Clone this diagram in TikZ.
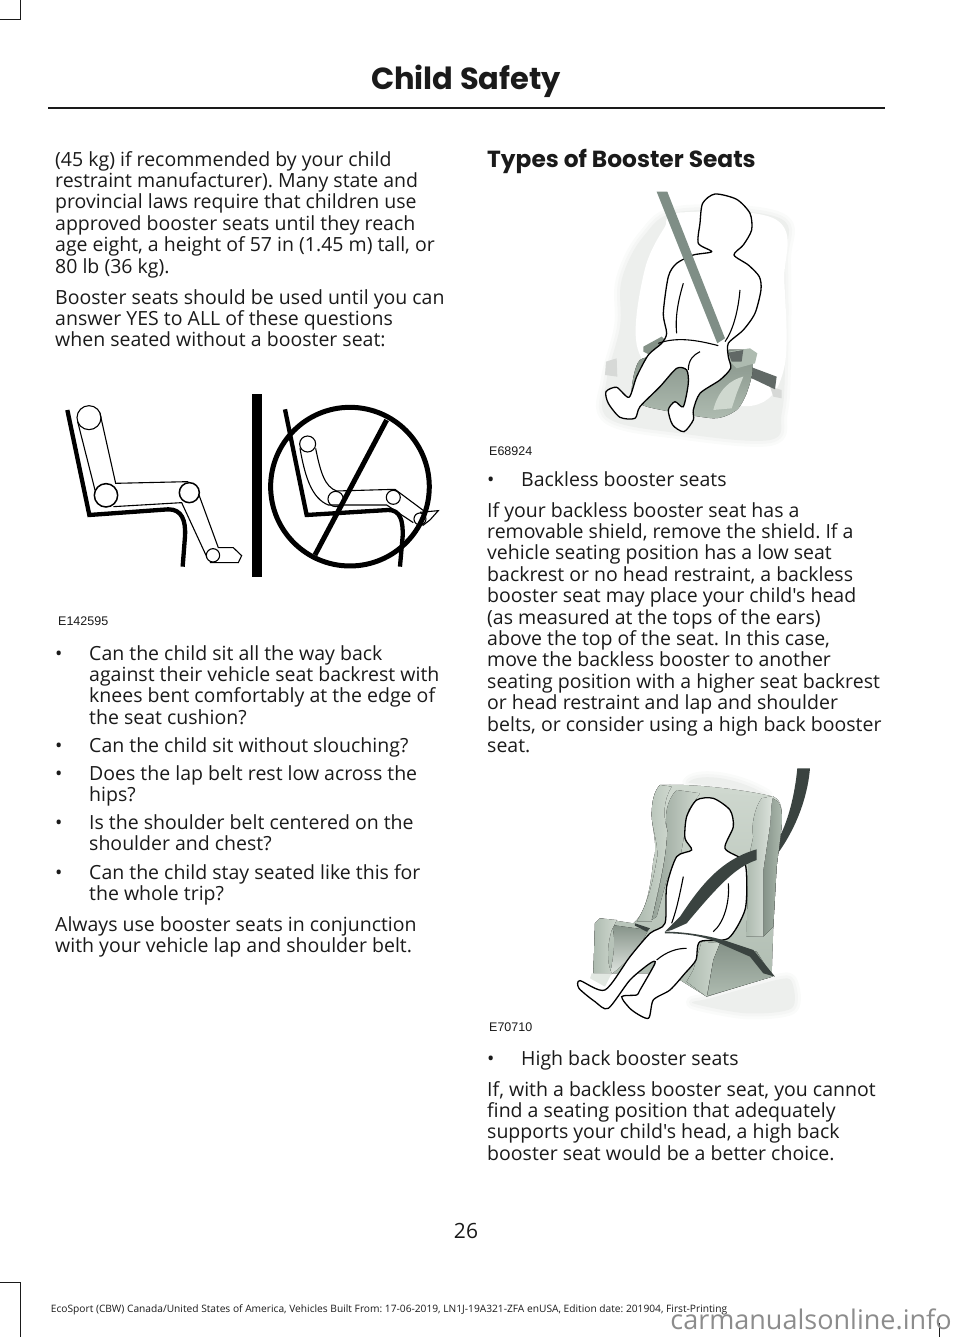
\documentclass[tikz,border=0pt]{standalone}
\usepackage{fontspec}
\setmainfont{Open Sans}[Ligatures=TeXOff]
\newfontfamily\headfont{Poppins}
\newfontfamily\capfont{Liberation Sans}
\usetikzlibrary{positioning}
\definecolor{ink}{HTML}{1A1A1A}
\definecolor{beltgray}{HTML}{7F8E86}
\definecolor{beltdark}{HTML}{3A4340}
\definecolor{seatgreen}{HTML}{AEBBB0}
\definecolor{seatdark}{HTML}{859288}
\definecolor{seatlight}{HTML}{CFD8CF}
\definecolor{pale}{HTML}{EDEFED}
\tikzset{
  bodytext/.style={inner sep=0pt, anchor=north west, align=left, text=ink,
    font=\frenchspacing\fontsize{19.5}{21.4}\selectfont,
    execute at begin node={\rule{0pt}{15pt}}},
  headtext/.style={inner sep=0pt, text=ink, font=\headfont\bfseries\fontsize{30.5}{34}\selectfont},
  captext/.style={inner sep=0pt, anchor=west, text=ink, font=\capfont\fontsize{12.5}{14}\selectfont},
  picline/.style={line width=1.1pt, draw=black},
  chairline/.style={line width=4.3pt, draw=black, line join=miter},
  markline/.style={line width=1pt, draw=ink},
  kid/.style={fill=white, draw=black, line width=1.3pt},
  softfill/.style={preaction={draw=#1!25!white, line width=12pt, line join=round},
    preaction={draw=#1!55!white, line width=6pt, line join=round}, fill=#1}
}
\begin{document}
\begin{tikzpicture}[x=1pt,y=-1pt]
\useasboundingbox (0,0) rectangle (960,1337);
% page furniture
\draw[markline] (0,20) -- (20,20) -- (20,0);
\draw[markline] (0,1282) -- (20,1282) -- (20,1337);
\draw[markline] (939,1323) -- (939,1337);
\draw[line width=1.4pt, draw=ink] (48,108) -- (885,108);
\node[headtext] (title) at (466,81) {Child Safety};
\node[inner sep=0pt, text=ink, font=\fontsize{21}{24}\selectfont] (pagenum) at (466,1231) {26};
\node[inner sep=0pt, text=ink, font=\frenchspacing\fontsize{10.2}{12}\selectfont] (footer) at (389,1310)
  {EcoSport (CBW) Canada/United States of America, Vehicles Built From: 17-06-2019, LN1J-19A321-ZFA enUSA, Edition date: 201904, First-Printing};
\node[inner sep=0pt, text=black!45, font=\fontsize{27}{30}\selectfont] (mark) at (811,1319) {carmanualsonline.info};

% left column
\node[bodytext] (intro) at (55,151) {(45 kg) if recommended by your child\\
restraint manufacturer). Many state and\\
provincial laws require that children use\\
approved booster seats until they reach\\
age eight, a height of 57 in (1.45 m) tall, or\\
80 lb (36 kg).};
\node[bodytext] (answer) at (55,289) {Booster seats should be used until you can\\
answer YES to ALL of these questions\\
when seated without a booster seat:};
\node[captext] (capA) at (58,621) {E142595};
\foreach \y in {645,737,765,814,864}
{
  \node[bodytext] at (55,\y) {•};
}
\node[bodytext] (quA) at (89,645) {Can the child sit all the way back\\
against their vehicle seat backrest with\\
knees bent comfortably at the edge of\\
the seat cushion?};
\node[bodytext] (quB) at (89,737) {Can the child sit without slouching?};
\node[bodytext] (quC) at (89,765) {Does the lap belt rest low across the\\
hips?};
\node[bodytext] (quD) at (89,814) {Is the shoulder belt centered on the\\
shoulder and chest?};
\node[bodytext] (quE) at (89,864) {Can the child stay seated like this for\\
the whole trip?};
\node[bodytext] (always) at (55,916) {Always use booster seats in conjunction\\
with your vehicle lap and shoulder belt.};

% right column
\node[headtext, anchor=west, font=\headfont\bfseries\fontsize{23.3}{27}\selectfont] (types) at (487,161) {Types of Booster Seats};
\node[captext] (capB) at (489,451) {E68924};
\node[captext] (capC) at (489,1027) {E70710};
\foreach \y in {471,1050}
{
  \node[bodytext] at (487,\y) {•};
}
\node[bodytext] (backless) at (521,471) {Backless booster seats};
\node[bodytext] (shield) at (487,502) {If your backless booster seat has a\\
removable shield, remove the shield. If a\\
vehicle seating position has a low seat\\
backrest or no head restraint, a backless\\
booster seat may place your child's head\\
(as measured at the tops of the ears)\\
above the top of the seat. In this case,\\
move the backless booster to another\\
seating position with a higher seat backrest\\
or head restraint and lap and shoulder\\
belts, or consider using a high back booster\\
seat.};
\node[bodytext] (highback) at (521,1050) {High back booster seats};
\node[bodytext] (better) at (487,1081) {If, with a backless booster seat, you cannot\\
find a seating position that adequately\\
supports your child's head, a high back\\
booster seat would be a better choice.};

% sitting pictograms
\begin{scope}[shift={(50,380)},x=0.3333pt,y=-0.3333pt]
\draw[chairline] (52,90) -- (118,405) -- (355,388) .. controls (395,388) and (408,420) .. (405,470) -- (398,560);
\draw[picline] (117,113) circle (36);
\draw[picline, line width=1.5pt] (168,346) circle (35);
\draw[picline, line width=1.5pt] (418,338) circle (30);
\draw[picline] (489,526) circle (20);
\draw[picline] (83,125) -- (135,330);
\draw[picline] (150,100) -- (197,310) -- (415,305);
\draw[picline] (190,380) -- (395,368) -- (470,530);
\draw[picline] (447,345) -- (505,503) -- (550,503) -- (575,527) -- (565,548) -- (480,548);
\fill[black] (607,42) rectangle (636,590);
\draw[line width=5pt, draw=black] (900,320) circle (238);
\draw[line width=5pt, draw=black] (1010,120) -- (795,525);
\draw[chairline] (705,88) -- (770,405) -- (1015,390) .. controls (1050,390) and (1060,420) .. (1058,470) -- (1050,560);
\draw[picline] (773,192) circle (24);
\draw[picline] (857,357) circle (23);
\draw[picline] (1030,352) circle (21);
\draw[picline] (1110,417) circle (18);
\draw[picline] (750,205) .. controls (765,290) and (785,355) .. (835,375) -- (1010,375) -- (1090,428);
\draw[picline] (797,205) .. controls (812,280) and (825,320) .. (860,333) -- (1035,328) -- (1125,395);
\draw[picline] (1110,397) -- (1165,392) -- (1140,420) -- (1118,437);
\end{scope}

% backless booster
\begin{scope}[shift={(480,180)},x=0.3333pt,y=-0.3333pt]
\path[softfill=pale] plot[smooth cycle, tension=0.6] coordinates {(425,300)(490,170)(600,95)(900,115)(915,250)(915,560)(905,700)(870,780)(600,760)(385,715)(380,600)(420,440)};
\path[softfill=white] plot[smooth cycle, tension=0.6] coordinates {(510,280)(570,150)(610,115)(880,135)(895,300)(895,560)(810,660)(600,600)(490,500)};
\fill[pale!80!gray] (378,545) -- (410,535) -- (412,590) -- (375,585) -- cycle;
\fill[pale!80!gray] (870,620) -- (905,630) -- (905,655) -- (880,650) -- cycle;
\fill[beltdark!80!white] (810,560) -- (890,590) -- (885,628) -- (805,590) -- cycle;
\fill[top color=seatdark, bottom color=seatgreen] plot[smooth cycle, tension=0.4] coordinates {(480,540)(455,640)(500,680)(700,715)(770,690)(800,640)(818,570)(800,510)(600,520)};
\fill[seatdark] (490,500) -- (545,470) -- (555,480) -- (510,525) -- (490,515) -- cycle;
\fill[seatgreen] (745,515) -- (810,505) -- (832,520) -- (825,550) -- (770,565) -- (745,540) -- cycle;
\fill[beltdark!80!white] (745,518) -- (790,510) -- (785,545) -- (755,545) -- cycle;
\fill[seatlight] (700,690) .. controls (715,630) and (750,600) .. (790,590) -- (770,640) -- (755,685) -- cycle;
\draw[kid] plot[smooth cycle, tension=0.45] coordinates {(655,190)(660,130)(668,70)(705,42)(770,58)(810,100)(815,150)(790,195)(762,225)(805,255)(838,290)(843,330)(825,400)(790,450)(745,490)(745,530)(752,565)(720,600)(660,640)(640,690)(640,720)(612,755)(578,735)(565,690)(585,665)(610,680)(625,610)(620,570)(590,565)(540,620)(480,680)(465,715)(420,712)(385,670)(378,635)(410,622)(447,652)(470,590)(505,525)(545,490)(560,460)(550,400)(565,290)(590,250)(640,225)(695,215)};
\fill[beltgray] (530,35) -- (562,35) -- (735,475) -- (712,490) -- cycle;
\draw[picline] (610,310) .. controls (595,360) and (585,410) .. (590,460);
\draw[picline] (780,330) .. controls (775,390) and (760,450) .. (735,485);
\draw[picline] (535,490) .. controls (590,470) and (650,480) .. (715,497);
\draw[picline] (660,515) .. controls (640,525) and (625,540) .. (625,570);
\end{scope}

% high back booster
\begin{scope}[shift={(480,760)},x=0.3333pt,y=-0.3333pt]
\path[softfill=pale] (625,68) .. controls (645,40) and (760,45) .. (860,105) -- cycle;
\path[softfill=pale] plot[smooth cycle, tension=0.5] coordinates {(890,660)(935,665)(935,745)(800,760)(640,730)(690,715)};
\fill[beltdark] (952,25) -- (990,25) .. controls (985,90) and (960,190) .. (890,285) -- (888,250) .. controls (925,190) and (945,100) .. cycle;
% back and wings
\fill[top color=seatlight, bottom color=seatgreen] (540,75) .. controls (640,70) and (800,90) .. (880,110) .. controls (905,120) and (908,150) .. (905,200) -- (890,320) -- (880,500) -- (875,650) -- (680,710) -- (600,660) -- (520,640) -- (340,640) -- (345,490) -- (360,475) -- (460,490) .. controls (495,460) and (510,400) .. (520,300) .. controls (535,260) and (515,200) .. (515,165) .. controls (515,120) and (525,90) .. cycle;
\fill[seatlight] (560,78) .. controls (650,72) and (780,90) .. (880,110) .. controls (800,110) and (650,90) .. (590,85) -- cycle;
\fill[left color=seatgreen, right color=seatlight] (540,75) -- (575,80) .. controls (550,120) and (548,170) .. (562,210) .. controls (560,300) and (530,400) .. (515,485) -- (470,485) .. controls (505,430) and (520,360) .. (532,290) .. controls (535,250) and (515,200) .. (515,165) .. controls (515,120) and (525,90) .. cycle;
\fill[left color=seatdark!60!seatgreen, right color=seatlight] (590,90) -- (660,100) -- (625,150) -- (600,300) -- (560,360) -- (530,470) -- (515,480) .. controls (540,380) and (560,290) .. (562,210) .. controls (552,170) and (560,120) .. cycle;
\fill[left color=seatdark, right color=seatgreen] (868,112) .. controls (905,120) and (908,150) .. (905,200) -- (890,320) -- (880,500) -- (850,530) -- (850,330) -- (868,210) -- cycle;
\fill[left color=seatgreen, right color=seatlight!70!white] (845,115) -- (880,108) .. controls (870,140) and (875,170) .. (868,210) -- (850,330) -- (850,530) -- (800,530) -- (805,300) -- (820,230) .. controls (812,200) and (825,140) .. cycle;
% leg rests
\fill[bottom color=seatlight!60!white, top color=seatdark] (395,495) -- (505,510) .. controls (480,560) and (440,610) .. (390,645) .. controls (400,590) and (410,540) .. cycle;
\fill[left color=seatgreen, right color=seatlight] (345,490) -- (360,475) -- (410,480) -- (395,510) .. controls (380,560) and (380,610) .. (395,640) -- (340,640) -- cycle;
\fill[seatlight!60!white] (335,640) -- (395,640) -- (375,680) -- (330,655) -- cycle;
\fill[left color=seatgreen, right color=seatlight] (665,545) -- (720,550) -- (700,600) -- (680,710) -- (620,665) -- (640,630) -- cycle;
\fill[top color=seatdark, bottom color=seatgreen] (720,550) -- (830,575) -- (878,650) -- (682,708) -- (700,600) -- cycle;
\draw[kid] plot[smooth cycle, tension=0.45] coordinates {(615,235)(620,170)(650,120)(700,115)(750,150)(760,200)(735,265)(790,300)(800,350)(795,450)(745,535)(660,545)(648,600)(615,640)(570,690)(520,720)(505,775)(455,750)(425,710)(470,705)(480,690)(525,610)(510,610)(450,660)(385,745)(345,725)(297,685)(300,662)(375,690)(450,590)(510,520)(555,490)(560,380)(590,290)(635,270)};
\fill[beltdark] (830,268) -- (830,300) .. controls (770,320) and (720,370) .. (620,490) -- (575,510) -- (555,515) -- (600,470) .. controls (660,380) and (720,300) .. cycle;
\fill[beltdark] (555,515) .. controls (620,515) and (700,530) .. (745,545) -- (820,570) -- (885,650) -- (850,640) -- (810,590) -- (730,555) .. controls (680,530) and (620,520) .. (555,520) -- cycle;
\fill[beltdark] (465,490) -- (510,505) -- (500,515) -- (465,497) -- cycle;
\draw[picline] (610,350) .. controls (600,400) and (590,450) .. (575,490);
\draw[picline] (745,370) .. controls (750,430) and (730,490) .. (700,515);
\draw[picline] (620,565) .. controls (590,565) and (560,575) .. (530,600);
\end{scope}
\end{tikzpicture}
\end{document}
